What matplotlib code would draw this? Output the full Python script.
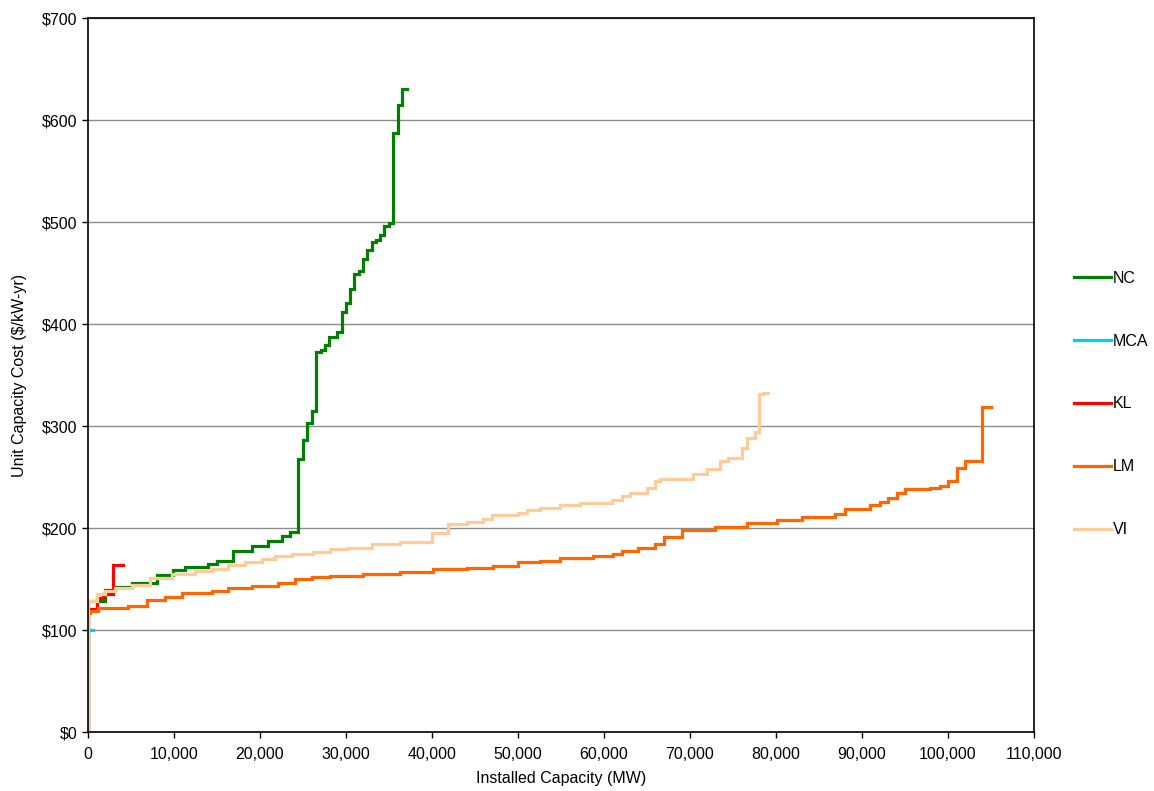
import matplotlib
matplotlib.use('Agg')
import matplotlib.pyplot as plt
from matplotlib.ticker import FuncFormatter, MultipleLocator

plt.rcParams['font.family'] = ['Liberation Sans', 'DejaVu Sans']

# ---- data (supply curves: step start capacity MW, unit cost $/kW-yr) ----
nc_x = [0, 0, 1980, 3140, 5080, 7990, 9900, 11300, 13950, 14960, 16900, 19030, 20970,
        22520, 23490, 24420, 24960, 25500, 26010, 26510, 27060, 27560, 28020, 28990,
        29490, 30000, 30470, 30970, 31550, 32020, 32480, 32990, 33490, 33950, 34450,
        35000, 35500, 36010, 36510]
nc_y = [0, 128.5, 139, 142, 146, 154, 159, 162, 165, 168, 177, 182, 187.5, 192, 196,
        267.6, 286, 303, 315, 373, 375, 379, 387, 392, 411.5, 421, 434, 449, 452, 464,
        472.5, 480.7, 482, 487, 496, 498.7, 587.5, 614.7, 630]
nc_end = 37060

mca_x = [0, 0]
mca_y = [0, 100]
mca_end = 620

kl_x = [0, 0, 1010, 1700, 2900]
kl_y = [0, 121, 131, 135, 163.7]
kl_end = 4100

lm_x = [0, 0, 230, 1200, 4690, 6820, 8950, 10890, 14380, 16320, 19030, 22130, 24070,
        26010, 28140, 32010, 36280, 40150, 44030, 47130, 50040, 52600, 54880, 58760,
        61080, 62050, 63990, 65930, 66980, 69030, 72910, 76600, 80080, 82990, 86860,
        88020, 90930, 92090, 93060, 94030, 95000, 97910, 99070, 100040, 101010, 101980,
        103990]
lm_y = [0, 117, 119, 121.3, 123.5, 129.4, 132, 136, 138.5, 140.8, 143, 145.8, 149.7,
        151.6, 153, 154.6, 157, 159.8, 161, 163, 166.3, 168, 170.3, 172.5, 175, 177.5,
        180, 184, 191.5, 198, 201.3, 204.6, 207.8, 211, 213.4, 218.6, 222.5, 225.8,
        229.7, 234, 238.2, 239.5, 241.2, 246, 258.5, 265.7, 318.3]
lm_end = 104970

vi_x = [0, 0, 1010, 1980, 3140, 5080, 7210, 9730, 12440, 14380, 16320, 18260, 20200,
        21740, 23680, 24650, 26200, 28140, 30080, 32990, 36280, 39960, 41900, 44030,
        45970, 46940, 50040, 51010, 52560, 54880, 57210, 60890, 62050, 63020, 64960,
        65930, 66510, 70390, 71940, 73490, 74460, 76010, 76600, 77560, 78020, 78530]
vi_y = [0, 128.7, 135, 138, 141, 144, 150.6, 155, 158, 160, 163.7, 167, 170, 173,
        174.5, 175, 176.8, 179, 180.7, 184, 186.6, 194.8, 204, 206, 208.5, 212.7, 215,
        218, 219.3, 222.5, 224.8, 227.5, 231.4, 234.6, 239.5, 246.5, 248.4, 253, 257.5,
        266, 269, 278, 287.9, 294.4, 331.4, 332.6]
vi_end = 79110

series = [
    ('NC', nc_x, nc_y, nc_end, '#008000'),
    ('MCA', mca_x, mca_y, mca_end, '#00CCFF'),
    ('KL', kl_x, kl_y, kl_end, '#FF0000'),
    ('LM', lm_x, lm_y, lm_end, '#FF6600'),
    ('VI', vi_x, vi_y, vi_end, '#FFCC99'),
]

fig = plt.figure(figsize=(11.54, 7.91), dpi=100)
ax = fig.add_axes([88 / 1154, 59 / 791, 946 / 1154, 714 / 791])

for name, xs, ys, end, col in series:
    ax.plot(list(xs) + [end], list(ys) + [ys[-1]], drawstyle='steps-post',
            color=col, lw=2.3, label=name, solid_joinstyle='miter')

ax.set_xlim(0, 110000)
ax.set_ylim(0, 700)
ax.xaxis.set_major_locator(MultipleLocator(10000))
ax.yaxis.set_major_locator(MultipleLocator(100))
ax.xaxis.set_major_formatter(FuncFormatter(lambda v, p: f'{int(v):,}'))
ax.yaxis.set_major_formatter(FuncFormatter(lambda v, p: f'${int(v)}'))
ax.grid(axis='y', color='#8c8c8c', lw=1.0)
ax.set_axisbelow(True)
for s in ax.spines.values():
    s.set_color('black')
    s.set_linewidth(1.2)
ax.tick_params(direction='out', length=4, width=1, labelsize=11.5, colors='black')
ax.tick_params(axis='x', pad=7)
ax.set_xlabel('Installed Capacity (MW)', fontsize=11.5, labelpad=6)
ax.set_ylabel('Unit Capacity Cost ($/kW-yr)', fontsize=11.5, labelpad=11)

leg = ax.legend(loc='center left', bbox_to_anchor=(1074 / 1154, (791 - 404) / 791),
                bbox_transform=fig.transFigure, frameon=False, fontsize=11.5,
                handlelength=2.3, handletextpad=0.15, labelspacing=3.0,
                borderpad=0, borderaxespad=0)

fig.savefig('out.png', dpi=100)
